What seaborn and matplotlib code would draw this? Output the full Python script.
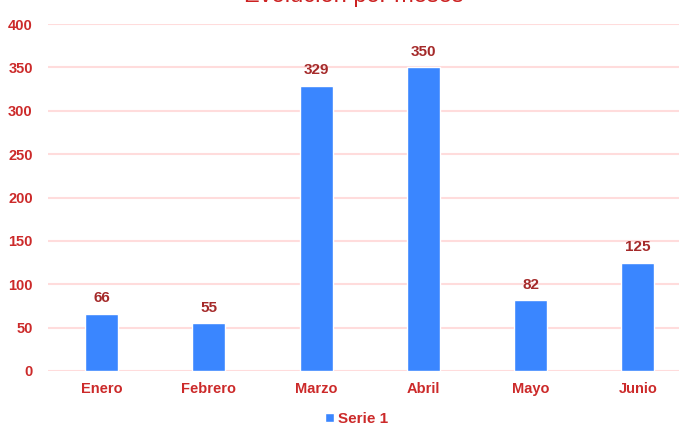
import matplotlib
matplotlib.use("Agg")
import matplotlib.pyplot as plt
import seaborn as sns
import pandas as pd

categories = ["Enero", "Febrero", "Marzo", "Abril", "Mayo", "Junio"]
values = [66, 55, 329, 350, 82, 125]
series_name = "Serie 1"
y_ticks = [0, 50, 100, 150, 200, 250, 300, 350, 400]
title = "Evolución por meses"

df = pd.DataFrame({"mes": categories, "valor": values, "serie": [series_name] * len(categories)})

sns.set_theme(style="white")
plt.rcParams['font.family'] = ['Liberation Sans', 'DejaVu Sans']

W, H = 679, 426
fig = plt.figure(figsize=(W / 100, H / 100), dpi=100)
left_px, right_px, top_px, bottom_px = 48, 691.5, 24, 371
ax = fig.add_axes([left_px / W, 1 - bottom_px / H, (right_px - left_px) / W, (bottom_px - top_px) / H])

bar_color = "#3a86ff"
tick_color = "#cc2a2a"
label_color = "#a52a2a"
grid_color = "#ffdcdc"

sns.barplot(data=df, x="mes", y="valor", hue="serie", palette=[bar_color], width=0.31,
            ax=ax, legend=True, saturation=1, zorder=3)

ax.set_xlim(-0.5, 5.5)
ax.set_ylim(0, 400)
ax.set_yticks(y_ticks)
ax.set_yticklabels([str(v) for v in y_ticks])
ax.grid(axis="y", color=grid_color, linewidth=1.5, zorder=0)
ax.set_axisbelow(True)
for s in ax.spines.values():
    s.set_visible(False)
ax.set_xlabel("")
ax.set_ylabel("")
ax.tick_params(axis="both", length=0, colors=tick_color, labelsize=10.5)
ax.tick_params(axis="y", pad=11)
ax.tick_params(axis="x", pad=8)
for lbl in ax.get_xticklabels() + ax.get_yticklabels():
    lbl.set_fontweight("bold")
    lbl.set_color(tick_color)

for cont in ax.containers:
    ax.bar_label(cont, labels=[str(v) for v in values], padding=6, color=label_color,
                 fontsize=11, fontweight="bold")

leg = ax.get_legend()
handles, labels = ax.get_legend_handles_labels()
leg.remove()
fig.legend(handles, labels, loc="center", bbox_to_anchor=(357 / W, 1 - 419 / H), frameon=False,
           handlelength=0.55, handleheight=0.55, handletextpad=0.3,
           prop={"size": 11, "weight": "bold"}, labelcolor=tick_color)

fig.text(354 / W, 1 - 2 / H, title, ha="center", va="baseline", color="#cc2222", fontsize=17)

fig.savefig("out.png", dpi=100)
